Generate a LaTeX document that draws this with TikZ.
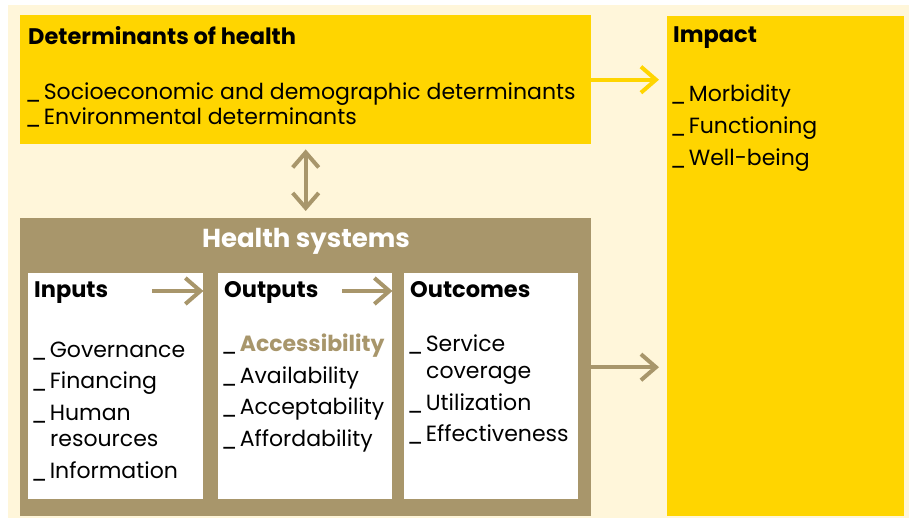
\documentclass[tikz,border=0pt]{standalone}
\usepackage{fontspec}
\setmainfont{Poppins}
\usetikzlibrary{arrows.meta}
\definecolor{cream}{HTML}{FFF6DA}
\definecolor{gold}{HTML}{FFD500}
\definecolor{khaki}{HTML}{A8966B}
\newcommand\bul{\kern-3pt\_\kern2.5pt}
\tikzset{
  box/.style={draw=none, inner sep=0pt, anchor=north west},
  ttl/.style={anchor=base west, inner sep=0pt, font=\fontsize{22.5}{26}\selectfont\bfseries},
  itm/.style={anchor=base west, inner sep=0pt, font=\fontsize{22}{26}\selectfont},
  conn/.style={line width=4pt, -{Straight Barb[length=15pt,width=26pt]}},
}
\begin{document}
\begin{tikzpicture}[x=1pt,y=-1pt]
\useasboundingbox (0,0) rectangle (909,518);
\fill[cream] (8,5) rectangle (909,518);
% boxes
\node[box, fill=gold, minimum width=571pt, minimum height=129pt] (det) at (20,15) {};
\node[box, fill=gold, minimum width=237pt, minimum height=500pt] (impact) at (667,16) {};
\node[box, fill=khaki, minimum width=571pt, minimum height=298pt] (hs) at (20,218) {};
\node[box, fill=white, minimum width=175pt, minimum height=226pt] (inputs) at (28,273) {};
\node[box, fill=white, minimum width=174pt, minimum height=226pt] (outputs) at (218,273) {};
\node[box, fill=white, minimum width=174pt, minimum height=226pt] (outcomes) at (404,273) {};
% determinants text
\node[ttl] (dett) at (28,45) {Determinants of health};
\node[itm] (d1) at (28,100) {\bul Socioeconomic and demographic determinants};
\node[itm] (d2) at (28,125) {\bul Environmental determinants};
% impact text
\node[ttl] (impt) at (673,43) {Impact};
\node[itm] (i1) at (673,102) {\bul Morbidity};
\node[itm] (i2) at (673,134) {\bul Functioning};
\node[itm] (i3) at (673,166) {\bul Well-being};
% health systems title
\node[anchor=base, inner sep=0pt, text=white, font=\fontsize{26}{30}\selectfont\bfseries] (hst) at (306,248) {Health systems};
% inputs
\node[ttl] (int) at (34,298) {Inputs};
\node[itm] (n1) at (34,357) {\bul Governance};
\node[itm] (n2) at (34,388) {\bul Financing};
\node[itm] (n3) at (34,420) {\bul Human};
\node[itm] (n3b) at (50,446) {resources};
\node[itm] (n4) at (34,478) {\bul Information};
% outputs
\node[ttl] (outt) at (224,298) {Outputs};
\node[itm] (o1) at (224,351) {\bul \textcolor{khaki}{\bfseries Accessibility}};
\node[itm] (o2) at (224,383) {\bul Availability};
\node[itm] (o3) at (224,414) {\bul Acceptability};
\node[itm] (o4) at (224,446) {\bul Affordability};
% outcomes
\node[ttl] (oct) at (410,298) {Outcomes};
\node[itm] (c1) at (410,351) {\bul Service};
\node[itm] (c1b) at (426,378) {coverage};
\node[itm] (c2) at (410,410) {\bul Utilization};
\node[itm] (c3) at (410,441) {\bul Effectiveness};
% connectors
\coordinate (a1) at (152,291);
\coordinate (a2) at (342,291);
\draw[conn, khaki] (a1) -- (a1 -| inputs.east);
\draw[conn, khaki] (a2) -- (a2 -| outputs.east);
\draw[conn, gold] (det.east) -- ([xshift=-8pt]det.east -| impact.west);
\draw[conn, khaki] (hs.east) -- ([xshift=-8pt]hs.east -| impact.west);
\draw[khaki, line width=4pt, {Straight Barb[length=15pt,width=26pt]}-{Straight Barb[length=15pt,width=26pt]}, shorten <=5pt, shorten >=7pt] (det.south) -- (hs.north);
\end{tikzpicture}
\end{document}
